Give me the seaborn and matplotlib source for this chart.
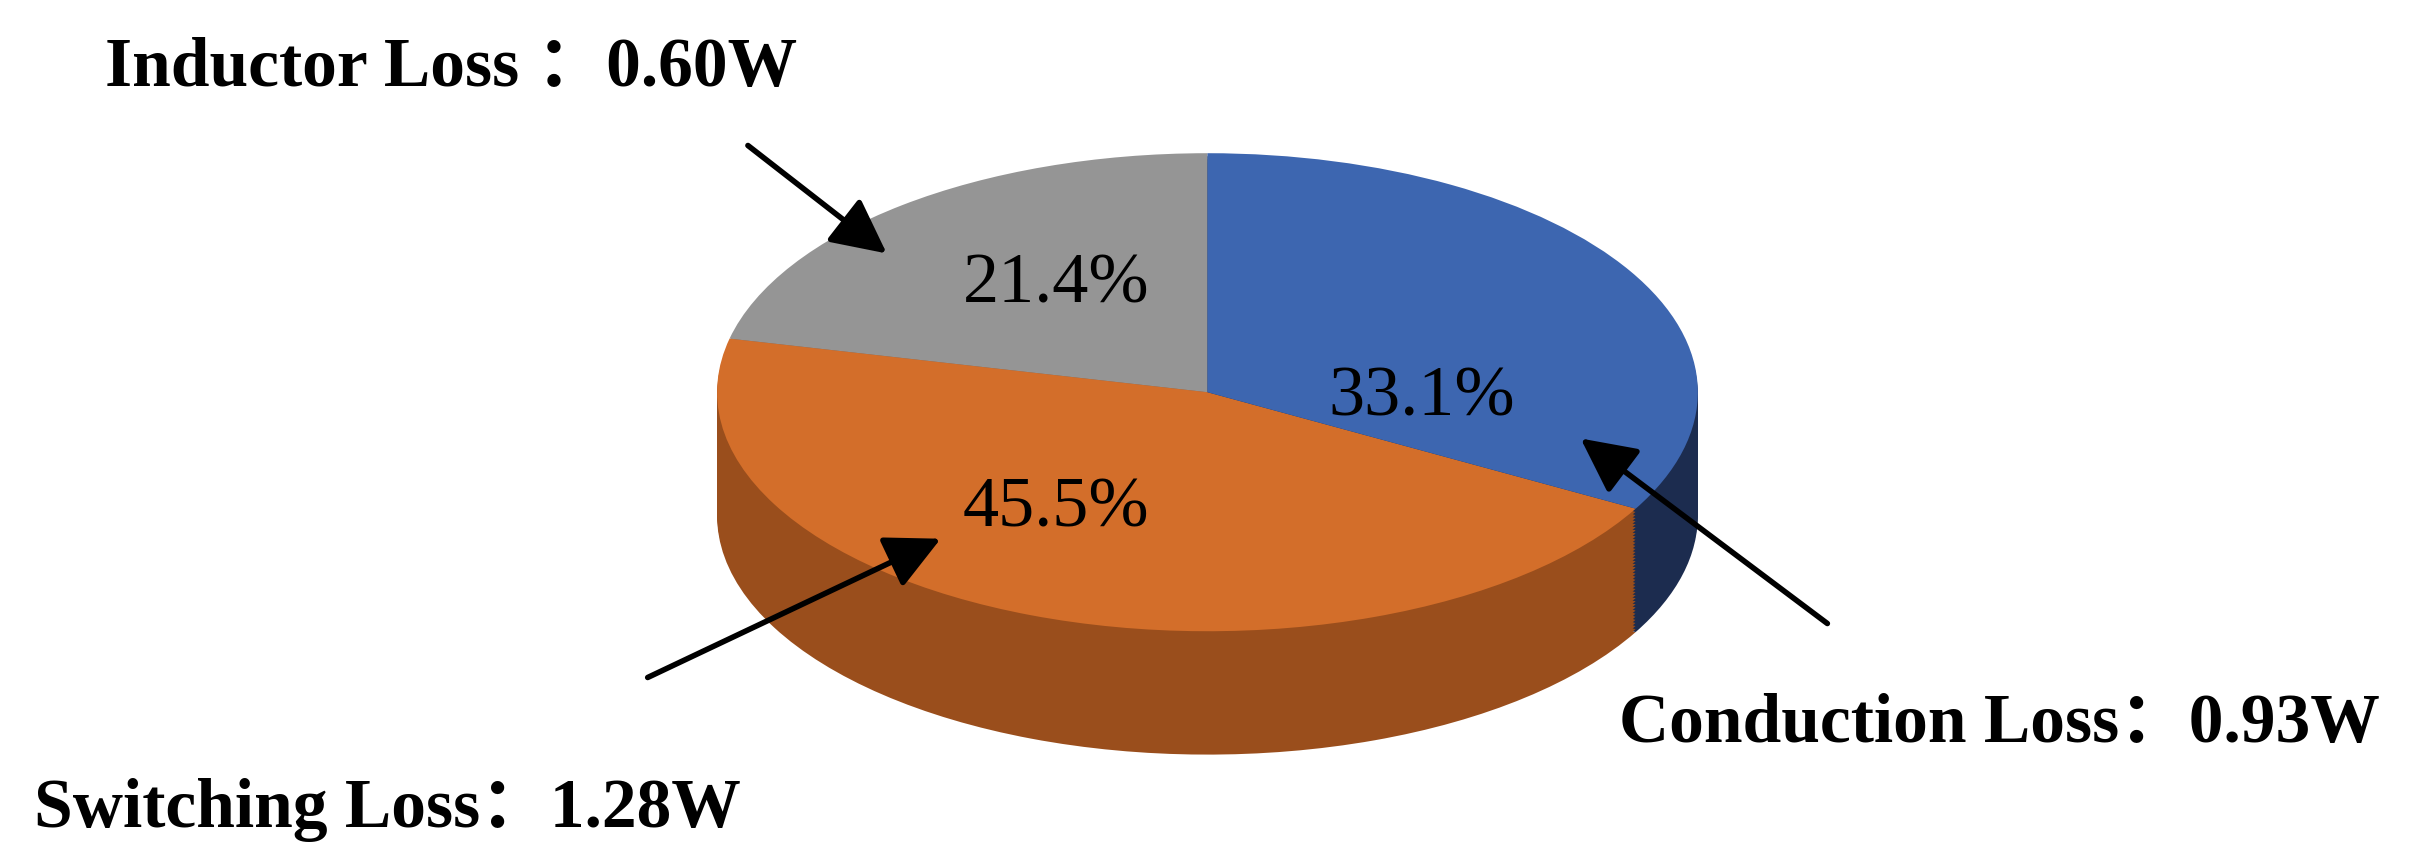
import matplotlib
matplotlib.use("Agg")
import matplotlib.pyplot as plt
import seaborn as sns
import numpy as np

sns.set_theme(style="white")
plt.rcParams['font.family'] = ['Liberation Serif', 'DejaVu Serif']

categories = ["Inductor Loss", "Switching Loss", "Conduction Loss"]
shares = [21.4, 45.5, 33.1]
watts = ["0.60W", "1.28W", "0.93W"]
top_colors = ["#959595", "#D36E2A", "#3D66B0"]
side_colors = ["#6E6E6E", "#9A4E1C", "#1C2C4F"]

W, H = 1568.0, 559.0
cx, cy, rx, ry, depth = 783.0, 255.0, 318.0, 155.0, 80.0

fig = plt.figure(figsize=(24.18, 8.62), dpi=100)
ax = fig.add_axes([0, 0, 1, 1])

def px(x, y):
    return (x / W, 1 - y / H)

n = 40
for i in range(n, 0, -1):
    off = depth / ry * i / n
    ax.pie(shares, colors=side_colors, startangle=90, counterclock=True,
           center=(0, -off), radius=1, wedgeprops=dict(linewidth=0))
ax.pie(shares, colors=top_colors, startangle=90, counterclock=True,
       center=(0, 0), radius=1, wedgeprops=dict(linewidth=0))
ax.set_aspect('auto')
ax.set_xlim(-cx / rx, (W - cx) / rx)
ax.set_ylim(-(H - cy) / ry, cy / ry)
ax.axis('off')

pct_pos = [(685, 185), (685, 330), (922, 258)]
for s, (x, y) in zip(shares, pct_pos):
    fig.text(*px(x, y), f"{s:.1f}%", fontsize=52, ha='center', va='center',
             color='black')

text_pos = [(68, 45), (22, 525), (1050, 470)]
arrows = [((485, 95), (575, 165)), ((420, 440), (610, 350)), ((1185, 405), (1025, 285))]
for c, w, (tx, ty), (tail, head) in zip(categories, watts, text_pos, arrows):
    sep = " ：" if c == "Inductor Loss" else "："
    fig.text(*px(tx, ty), f"{c}{sep}{w}", fontsize=50, fontweight='bold',
             ha='left', va='center', color='black',
             family=['Liberation Serif', 'Noto Sans CJK SC'])
    ax.annotate("", xy=px(*head), xycoords='figure fraction',
                xytext=px(*tail), textcoords='figure fraction',
                arrowprops=dict(arrowstyle='-|>,head_width=1.4,head_length=2.8',
                                color='black', lw=4, shrinkA=0, shrinkB=0))

fig.savefig("out.png", dpi=100, facecolor='white')
